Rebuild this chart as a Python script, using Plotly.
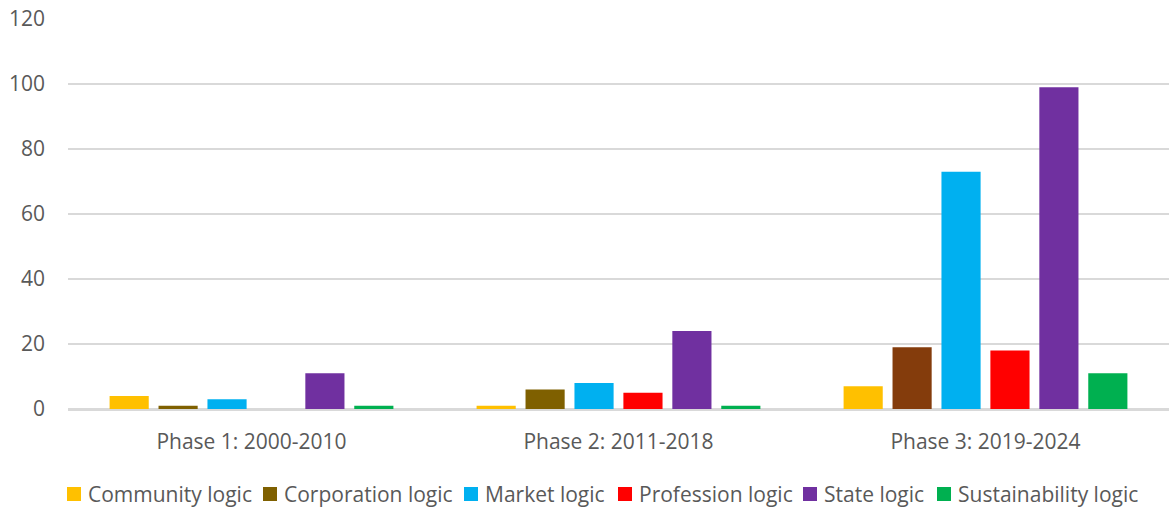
import plotly.graph_objects as go

phases = ["Phase 1: 2000-2010", "Phase 2: 2011-2018", "Phase 3: 2019-2024"]

community = [4, 1, 7]
corporation = [1, 6, 19]
market = [3, 8, 73]
profession = [0, 5, 18]
state = [11, 24, 99]
sustainability = [1, 1, 11]

series_names = ["Community logic", "Corporation logic", "Market logic",
                "Profession logic", "State logic", "Sustainability logic"]
series_values = [community, corporation, market, profession, state, sustainability]
bar_colors = ["#FFC000", ["#7F6000", "#7F6000", "#843C0C"], "#00B0F0",
              "#FF0000", "#7030A0", "#00B050"]
legend_colors = ["#FFC000", "#7F6000", "#00B0F0", "#FF0000", "#7030A0", "#00B050"]

W, H = 1169, 508
ML, MR, MT, MB = 68, 0, 19, 99
PW, PH = W - ML - MR, H - MT - MB

fig = go.Figure()
for name, vals, color in zip(series_names, series_values, bar_colors):
    fig.add_trace(go.Bar(
        name=name, x=phases, y=vals,
        marker=dict(color=color, line=dict(width=0)),
    ))

# bottom legend: square swatch followed by label, laid out in pixels
swatch_left = [67, 263, 464, 618, 803, 937]
legend_y = 494
swatch_size = 14


def px_x(px):
    return (px - ML) / PW


def px_y(py):
    return (H - MB - py) / PH


shapes = []
annotations = []
for name, color, sx in zip(series_names, legend_colors, swatch_left):
    shapes.append(dict(
        type="rect", xref="paper", yref="paper",
        x0=px_x(sx), x1=px_x(sx + swatch_size),
        y0=px_y(legend_y + swatch_size / 2), y1=px_y(legend_y - swatch_size / 2),
        fillcolor=color, line=dict(width=0),
    ))
    annotations.append(dict(
        xref="paper", yref="paper", x=px_x(sx + swatch_size + 5), y=px_y(legend_y),
        xanchor="left", yanchor="middle", text=name, showarrow=False,
        font=dict(size=21, color="#595959"),
    ))

fig.update_layout(
    barmode="group",
    bargap=0.2,
    bargroupgap=0.2,
    width=W, height=H,
    margin=dict(l=ML, r=MR, t=MT, b=MB, autoexpand=False),
    paper_bgcolor="white",
    plot_bgcolor="white",
    font=dict(family="Open Sans, Noto Sans, sans-serif", size=21, color="#595959"),
    showlegend=False,
    shapes=shapes,
    annotations=annotations,
    xaxis=dict(
        showgrid=False, showline=True, linecolor="#D9D9D9", linewidth=1.5,
        ticks="", ticklabelstandoff=13,
    ),
    yaxis=dict(
        range=[0, 120], dtick=20, showgrid=True, gridcolor="#D9D9D9", gridwidth=1.5,
        zeroline=True, zerolinecolor="#D9D9D9", zerolinewidth=1.5,
        ticks="", ticklabelstandoff=22, showline=False,
    ),
)

fig.write_html("out.html")
